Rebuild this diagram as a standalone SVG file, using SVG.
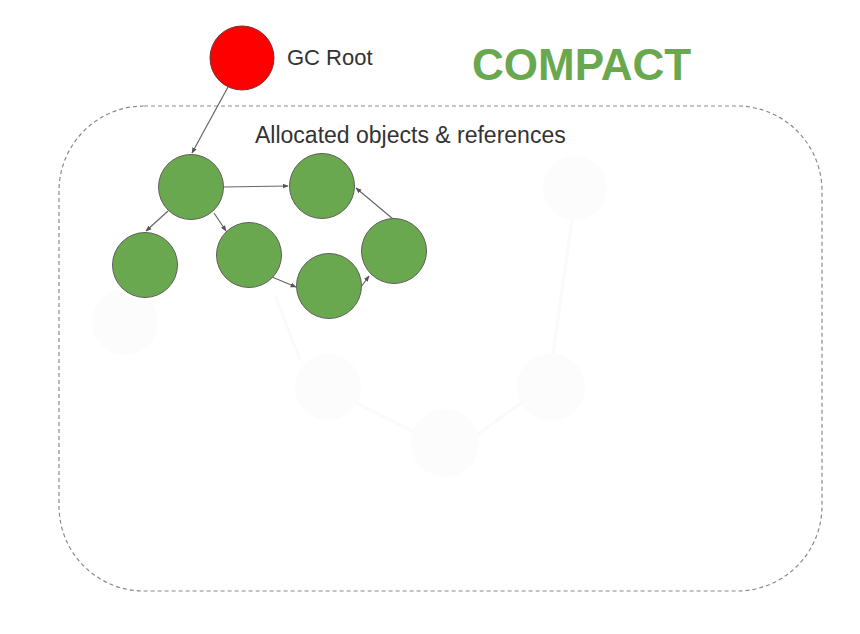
<svg xmlns="http://www.w3.org/2000/svg" width="860" height="634" viewBox="0 0 860 634">
<style>
.obj{fill:#6aa84f;stroke:#5f5f5f;stroke-width:1}
.edge{stroke:#666;stroke-width:1.2;fill:none;marker-end:url(#ah)}
.ghost{fill:#fcfcfc;stroke:none}
.gline{stroke:#fafafa;stroke-width:3;fill:none}
.lbl{font-family:"Liberation Sans",Arial,sans-serif;fill:#333}
</style>
<defs>
<marker id="ah" viewBox="0 0 10 10" refX="9" refY="5" markerWidth="6" markerHeight="6" orient="auto" markerUnits="userSpaceOnUse">
<path d="M0,1 L10,5 L0,9 z" fill="#555"/>
</marker>
</defs>
<rect width="860" height="634" fill="#ffffff"/>
<g id="ghosts">
<path class="gline" d="M572,220 L553,354 M350,400 L420,435 M470,440 L525,400 M275,295 L300,360"/>
<circle class="ghost" cx="575" cy="188" r="32"/>
<circle class="ghost" cx="125" cy="322" r="33"/>
<circle class="ghost" cx="328" cy="387" r="33"/>
<circle class="ghost" cx="551" cy="387" r="34"/>
<circle class="ghost" cx="445" cy="443" r="34"/>
</g>
<g id="heap">
<rect x="59" y="106" width="763" height="485" rx="85" ry="85" fill="none" stroke="#8a8a8a" stroke-width="1.2" stroke-dasharray="4,3"/>
<text class="lbl" x="255" y="143" font-size="23">Allocated objects &amp; references</text>
</g>
<g id="title">
<text x="472" y="80" font-family="&quot;Liberation Sans&quot;,Arial,sans-serif" font-size="44" font-weight="bold" fill="#6aa84f">COMPACT</text>
</g>
<g id="connectors">
<line class="edge" x1="228" y1="87" x2="192" y2="153"/>
<line class="edge" x1="223" y1="187" x2="288" y2="186"/>
<line class="edge" x1="168" y1="211" x2="146" y2="231"/>
<line class="edge" x1="214" y1="213" x2="226" y2="231"/>
<line class="edge" x1="272" y1="277" x2="296" y2="287"/>
<line class="edge" x1="361" y1="287" x2="369" y2="276"/>
<line class="edge" x1="393" y1="219" x2="356" y2="188"/>
</g>
<g id="gc-root">
<circle cx="242" cy="58" r="32" fill="#ff0000" stroke="#7a3030" stroke-width="1"/>
<text class="lbl" x="287" y="65" font-size="22">GC Root</text>
</g>
<g id="obj-a"><circle class="obj" cx="191" cy="187" r="32.5"/></g>
<g id="obj-b"><circle class="obj" cx="322" cy="186" r="32.5"/></g>
<g id="obj-c"><circle class="obj" cx="145" cy="265" r="32.5"/></g>
<g id="obj-d"><circle class="obj" cx="249" cy="255" r="32.5"/></g>
<g id="obj-e"><circle class="obj" cx="329" cy="286" r="32.5"/></g>
<g id="obj-f"><circle class="obj" cx="394" cy="251" r="32.5"/></g>
</svg>
